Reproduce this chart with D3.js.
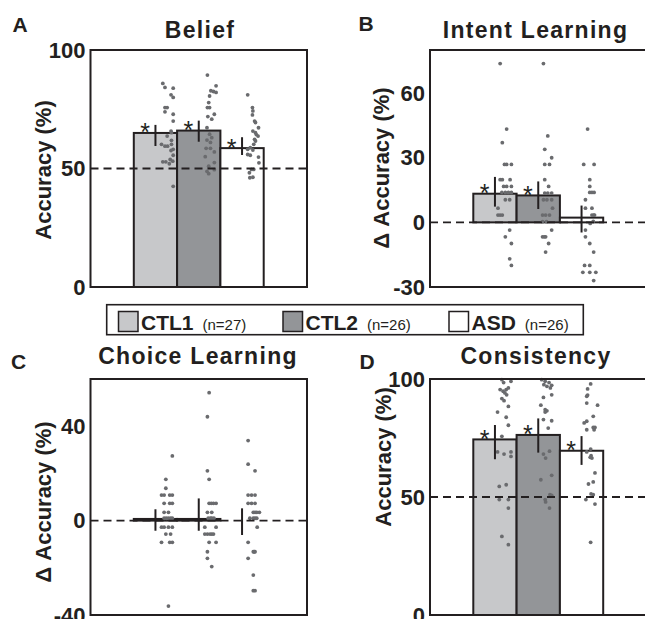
<!DOCTYPE html>
<html><head><meta charset="utf-8">
<script src="https://cdn.jsdelivr.net/npm/d3@7"></script>
<style>
html,body{margin:0;padding:0;background:#fff;overflow:hidden}
svg{display:block;font-family:"Liberation Sans",Arial,Helvetica,sans-serif}
</style></head><body>
<svg id="chart" width="645" height="619"></svg>
<script>
// ---------------- data ----------------
const groups = ["CTL1", "CTL2", "ASD"];
const groupN = ["(n=27)", "(n=26)", "(n=26)"];

// A: Belief
const beliefTicks = [0, 50, 100];
const beliefMean = [65.0, 66.0, 58.6];
const beliefHi = [68.4, 70.2, 63.2];
const beliefLo = [59.5, 61.3, 55.7];
const beliefSig = [true, true, true];
// dots: [value, horizontal offset from bar centre in category units]
const beliefDotsCTL1 = [[85.9,.17],[84.2,.22],[83.9,.41],[81.1,.36],[80.0,.41],[75.7,.22],[75.7,.27],[73.9,.22],[72.9,.41],[70.0,.41],[65.8,.36],[65.1,.37],[63.7,.27],[60.2,.14],[59.4,.22],[61.9,.37],[60.2,.37],[58.1,.41],[57.6,.36],[55.6,.41],[52.8,.17],[52.8,.24],[52.0,.32],[53.1,.40],[53.8,.34],[42.5,.41],[59.4,.28]];
const beliefDotsCTL2 = [[89.4,.20],[84.9,.40],[82.8,.28],[82.5,.34],[82.1,.40],[80.6,.25],[77.8,.23],[75.7,.25],[75.7,.20],[72.9,.36],[71.9,.21],[70.8,.30],[67.2,.19],[64.5,.25],[63.0,.30],[62.0,.19],[61.0,.27],[58.5,.17],[58.5,.27],[57.0,.36],[55.0,.15],[52.5,.36],[51.0,.23],[49.5,.36],[48.8,.19],[47.8,.23]];
const beliefDotsASD = [[81.1,.13],[75.7,.24],[74.3,.25],[72.6,.24],[70.0,.29],[69.4,.31],[67.2,.38],[65.8,.25],[65.1,.31],[64.3,.33],[63.7,.37],[62.3,.29],[61.6,.31],[60.2,.27],[58.8,.19],[58.1,.13],[57.8,.25],[55.9,.13],[55.6,.19],[54.8,.38],[52.4,.39],[49.6,.22],[49.6,.27],[48.2,.17],[46.1,.18],[46.3,.25]];

// B: Intent Learning
const intentTicks = [-30, 0, 30, 60];
const intentMean = [13.3, 12.5, 2.2];
const intentHi = [21.1, 19.0, 7.8];
const intentLo = [7.3, 6.2, -4.7];
const intentSig = [true, true, false];
const intentDotsCTL1 = [[73.7,.12],[43.3,.27],[37.0,.17],[26.9,.22],[26.9,.27],[26.9,.38],[19.8,.12],[19.8,.17],[19.8,.35],[16.7,.27],[16.7,.38],[16.7,.20],[13.9,.16],[13.9,.24],[13.9,.31],[13.9,.38],[10.5,.24],[10.5,.34],[6.6,.07],[3.4,.07],[3.4,.12],[3.4,.17],[-3.6,.34],[-6.7,.24],[-9.8,.38],[-16.9,.34],[-20.0,.38]];
const intentDotsCTL2 = [[73.7,.12],[40.1,.22],[33.9,.15],[30.0,.31],[26.9,.15],[26.9,.26],[19.8,.15],[16.7,.24],[13.6,.15],[13.6,.22],[13.6,.31],[10.5,.12],[10.5,.20],[10.5,.31],[6.6,.33],[3.4,.10],[3.4,.17],[3.4,.26],[0.3,.10],[0.3,.19],[-3.6,.31],[-6.7,.10],[-6.7,.14],[-6.7,.17],[-9.8,.24],[-13.8,.17]];
const intentDotsASD = [[43.3,.14],[26.9,.05],[26.9,.29],[19.8,.19],[16.7,.19],[13.9,.19],[13.9,.24],[13.9,.29],[10.5,.09],[6.6,.09],[6.6,.24],[3.4,.24],[3.4,.28],[3.4,.30],[0.5,.27],[-0.5,.20],[-3.6,.09],[-6.7,.09],[-9.8,.19],[-13.8,.28],[-20.0,.07],[-20.0,.19],[-23.2,.03],[-23.2,.19],[-23.2,.33],[-27.0,.28]];

// C: Choice Learning
const choiceTicks = [-40, 0, 40];
const choiceMean = [0.7, 0.7, 0.0];
const choiceHi = [4.8, 9.4, 5.2];
const choiceLo = [-4.3, -4.3, -6.1];
const choiceSig = [false, false, false];
const choiceDotsCTL1 = [[27.4,.39],[17.5,.24],[13.7,.24],[10.8,.14],[10.8,.20],[10.8,.33],[10.8,.39],[7.3,.20],[7.3,.33],[7.3,.39],[3.5,.20],[3.5,.30],[1.0,.20],[1.0,.25],[1.0,.30],[1.0,.35],[1.0,.39],[-2.8,.14],[-2.8,.20],[-2.8,.30],[-2.8,.39],[-5.7,.24],[-5.7,.35],[-9.2,.14],[-9.2,.33],[-9.2,.39],[-36.2,.30]];
const choiceDotsCTL2 = [[54.2,.24],[44.0,.20],[21.1,.20],[17.5,.24],[7.3,.24],[7.3,.29],[7.3,.34],[7.3,.40],[3.5,.20],[3.5,.30],[1.0,.22],[1.0,.27],[1.0,.30],[1.0,.35],[-2.8,.14],[-2.8,.40],[-5.7,.14],[-5.7,.20],[-5.7,.26],[-5.7,.30],[-5.7,.34],[-9.2,.24],[-9.2,.40],[-13.2,.20],[-16.0,.20],[-19.5,.30]];
const choiceDotsASD = [[33.9,.14],[23.9,.14],[21.1,.30],[10.8,.14],[10.8,.22],[10.8,.30],[7.3,.14],[7.3,.22],[7.3,.30],[3.5,.26],[3.5,.30],[3.5,.34],[3.5,.40],[1.0,.18],[1.0,.26],[1.0,.30],[1.0,.34],[-2.8,.35],[-9.2,.14],[-13.2,.26],[-13.2,.28],[-13.2,.30],[-16.0,.14],[-23.1,.26],[-29.7,.26],[-29.7,.30]];

// D: Consistency
const consTicks = [0, 50, 100];
const consMean = [74.4, 76.3, 69.6];
const consHi = [80.5, 83.3, 75.8];
const consLo = [66.0, 68.8, 63.6];
const consSig = [true, true, true];
const consDotsCTL1 = [[99.7,.16],[99.0,.37],[98.5,.20],[96.2,.31],[95.5,.26],[94.8,.19],[95.5,.12],[94.1,.23],[93.3,.27],[91.7,.16],[90.8,.21],[88.4,.31],[86.0,.06],[83.8,.26],[80.4,.31],[75.7,.16],[69.1,.06],[68.2,.21],[69.1,.37],[67.2,.37],[54.5,.10],[55.2,.26],[48.9,.10],[48.9,.31],[45.3,.31],[33.3,.16],[29.8,.31]];
const consDotsCTL2 = [[99.7,.08],[99.0,.16],[98.5,.25],[97.6,.13],[96.9,.20],[97.3,.31],[96.2,.28],[93.3,.31],[92.2,.12],[88.9,.06],[87.0,.16],[86.5,.20],[86.0,.16],[82.8,.12],[82.3,.31],[79.2,.23],[68.2,.12],[69.4,.26],[66.5,.17],[59.2,.31],[57.3,.06],[51.0,.27],[50.7,.31],[48.9,.16],[47.9,.17],[45.3,.26]];
const consDotsASD = [[97.9,.21],[95.8,.14],[93.2,.14],[92.7,.12],[89.8,.12],[88.9,.37],[84.2,.27],[82.1,.12],[81.4,.06],[79.5,.31],[79.5,.27],[78.5,.12],[78.5,.29],[69.1,.12],[70.3,.21],[67.5,.22],[66.8,.20],[66.5,.24],[60.2,.31],[55.5,.16],[56.4,.27],[51.3,.22],[51.0,.27],[48.9,.10],[47.0,.31],[30.8,.21]];

// ---------------- style / layout ----------------
const INK = "#231f20";
const fills = ["#c7c8ca", "#939598", "#ffffff"];
const dotColor = "#6a6b6e";

const panels = [
  {letter:"A", title:"Belief", ylabel:"Accuracy (%)", domain:[0,100], ticks:beliefTicks, chance:50,
   mean:beliefMean, hi:beliefHi, lo:beliefLo, sig:beliefSig, dots:[beliefDotsCTL1, beliefDotsCTL2, beliefDotsASD],
   box:{x0:90.5, x1:307, y0:50, y1:287}, letterPos:[12.5,31.5], titlePos:[200,37.5], ylabPos:[51,170]},
  {letter:"B", title:"Intent Learning", ylabel:"\u0394 Accuracy (%)", domain:[-30,80], ticks:intentTicks, chance:0,
   mean:intentMean, hi:intentHi, lo:intentLo, sig:intentSig, dots:[intentDotsCTL1, intentDotsCTL2, intentDotsASD],
   box:{x0:430, x1:646.5, y0:50, y1:287}, letterPos:[358.5,31], titlePos:[535.5,37.5], ylabPos:[389,168]},
  {letter:"C", title:"Choice Learning", ylabel:"\u0394 Accuracy (%)", domain:[-40,60], ticks:choiceTicks, chance:0,
   mean:choiceMean, hi:choiceHi, lo:choiceLo, sig:choiceSig, dots:[choiceDotsCTL1, choiceDotsCTL2, choiceDotsASD],
   box:{x0:90.5, x1:307, y0:379, y1:615}, letterPos:[11,368.5], titlePos:[198,363.5], ylabPos:[51,502]},
  {letter:"D", title:"Consistency", ylabel:"Accuracy (%)", domain:[0,100], ticks:consTicks, chance:50,
   mean:consMean, hi:consHi, lo:consLo, sig:consSig, dots:[consDotsCTL1, consDotsCTL2, consDotsASD],
   box:{x0:430, x1:646.5, y0:379, y1:615}, letterPos:[359.5,368.5], titlePos:[536,363.5], ylabPos:[391,457]}
];

const svg = d3.select("#chart");

panels.forEach(p => {
  const g = svg.append("g");
  const b = p.box;
  const x = d3.scaleLinear().domain([0, 5]).range([b.x0, b.x1]);
  const y = d3.scaleLinear().domain(p.domain).range([b.y1, b.y0]);

  // bars
  g.selectAll("rect.bar").data(p.mean).join("rect")
    .attr("class", "bar")
    .attr("x", (d, i) => x(i + 1))
    .attr("width", (d, i) => x(i + 2) - x(i + 1))
    .attr("y", d => Math.min(y(d), y(0)))
    .attr("height", d => Math.abs(y(d) - y(0)))
    .attr("fill", (d, i) => fills[i])
    .attr("stroke", INK).attr("stroke-width", 2);

  // dots
  p.dots.forEach((arr, i) => {
    g.selectAll(null).data(arr).join("circle")
      .attr("cx", d => x(i + 1.5 + d[1]))
      .attr("cy", d => y(d[0]))
      .attr("r", 1.9)
      .attr("fill", dotColor);
  });

  // chance line
  g.append("line")
    .attr("x1", b.x0).attr("x2", b.x1)
    .attr("y1", y(p.chance)).attr("y2", y(p.chance))
    .attr("stroke", INK).attr("stroke-width", 1.8)
    .attr("stroke-dasharray", "8,5");

  // error bars
  g.selectAll("line.err").data(p.mean).join("line")
    .attr("class", "err")
    .attr("x1", (d, i) => x(i + 1.5)).attr("x2", (d, i) => x(i + 1.5))
    .attr("y1", (d, i) => y(p.hi[i])).attr("y2", (d, i) => y(p.lo[i]))
    .attr("stroke", INK).attr("stroke-width", 2);

  // significance stars
  g.selectAll("text.star").data(p.mean.map((m, i) => ({m, i})).filter(d => p.sig[d.i])).join("text")
    .attr("class", "star")
    .attr("x", d => x(d.i + 1.5 - 0.24))
    .attr("y", d => y(d.m) + 8.5)
    .attr("text-anchor", "middle")
    .attr("font-size", 25)
    .attr("fill", INK)
    .text("*");

  // frame
  g.append("rect")
    .attr("x", b.x0).attr("y", b.y0)
    .attr("width", b.x1 - b.x0).attr("height", b.y1 - b.y0)
    .attr("fill", "none").attr("stroke", INK).attr("stroke-width", 2);

  // y axis
  const ax = g.append("g").attr("transform", `translate(${b.x0},0)`)
    .call(d3.axisLeft(y).tickValues(p.ticks).tickSize(0).tickPadding(5).tickFormat(d => String(d)));
  ax.select(".domain").remove();
  ax.selectAll("text")
    .attr("font-size", 22).attr("font-weight", "bold")
    .attr("font-family", '"Liberation Sans",Arial,sans-serif')
    .attr("fill", INK);

  // y label
  g.append("text")
    .attr("transform", `translate(${p.ylabPos[0]},${p.ylabPos[1]}) rotate(-90)`)
    .attr("text-anchor", "middle")
    .attr("font-size", 22).attr("font-weight", "bold")
    .attr("fill", INK)
    .text(p.ylabel);

  // title
  g.append("text")
    .attr("x", p.titlePos[0]).attr("y", p.titlePos[1])
    .attr("text-anchor", "middle")
    .attr("font-size", 23).attr("font-weight", "bold")
    .attr("letter-spacing", 1.3)
    .attr("fill", INK)
    .text(p.title);

  // panel letter
  g.append("text")
    .attr("x", p.letterPos[0]).attr("y", p.letterPos[1])
    .attr("font-size", 21).attr("font-weight", "bold")
    .attr("fill", INK)
    .text(p.letter);
});

// legend
const lg = svg.append("g");
lg.append("rect")
  .attr("x", 106.7).attr("y", 304.7).attr("width", 476.6).attr("height", 30)
  .attr("fill", "#fff").attr("stroke", INK).attr("stroke-width", 1.6);
const legX = [118.5, 283, 449];
groups.forEach((name, i) => {
  const lx = legX[i];
  lg.append("rect")
    .attr("x", lx).attr("y", 311.5).attr("width", 19.5).attr("height", 20)
    .attr("fill", fills[i]).attr("stroke", INK).attr("stroke-width", 1.5);
  const t = lg.append("text")
    .attr("x", lx + 22.5).attr("y", 330)
    .attr("font-size", 21).attr("font-weight", "bold")
    .attr("fill", INK)
    .text(name);
  const w = t.node().getComputedTextLength();
  lg.append("text")
    .attr("x", lx + 22.5 + w + 9).attr("y", 330)
    .attr("font-size", 15)
    .attr("fill", INK)
    .text(groupN[i]);
});
</script>
</body></html>
